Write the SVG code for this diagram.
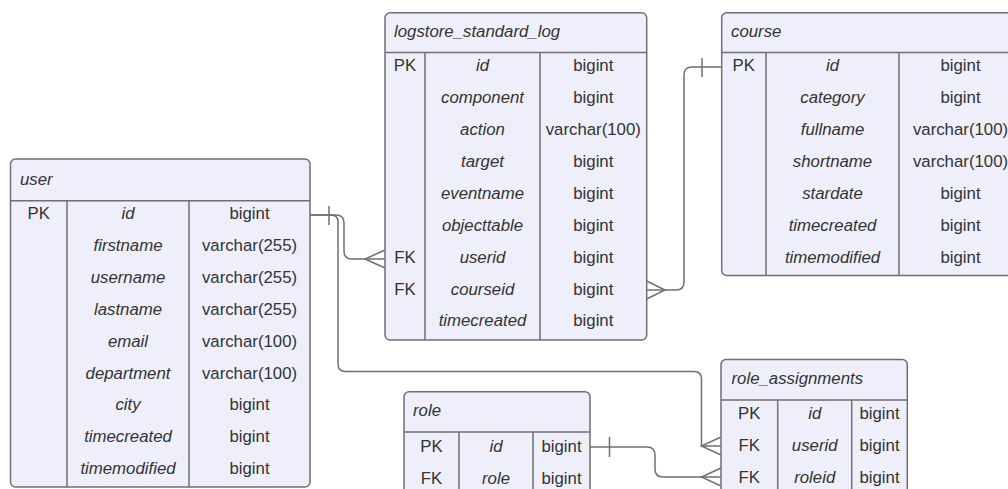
<svg xmlns="http://www.w3.org/2000/svg" width="1008" height="489" viewBox="0 0 1008 489">
<style>
.box{fill:#EFEFFB;stroke:#707070;stroke-width:1.5}
.div{stroke:#707070;stroke-width:1.5;fill:none}
text{font-family:"Liberation Sans",Arial,sans-serif;font-size:16.8px;fill:#333;dominant-baseline:central}
.h{font-style:italic}
.n{font-style:italic;text-anchor:middle}
.c{text-anchor:middle}
.con{stroke:#707070;stroke-width:1.5;fill:none}
</style>
<rect width="1008" height="489" fill="#fff"/>
<g id="connectors">
<!-- user.id -> logstore.userid -->
<path class="con" d="M310,215 H336 Q344,215 344,223 V251 Q344,259 352,259 H385"/>
<path class="con" d="M329,206 V225 M385,250 L365,259 L385,268"/>
<!-- user.id -> role_assignments.userid -->
<path class="con" d="M310,215 H331 Q338,215 338,222 V364 Q338,371.5 345.5,371.5 H694 Q701.5,371.5 701.5,379 V446 H721"/>
<path class="con" d="M721,437 L701.5,446 L721,455"/>
<!-- role.id -> role_assignments.roleid -->
<path class="con" d="M590,447 H647 Q655,447 655,455 V469 Q655,477 663,477 H721"/>
<path class="con" d="M609.5,437 V457 M721,468 L701.5,477 L721,486"/>
<!-- logstore.courseid -> course.id -->
<path class="con" d="M646.7,290 H676 Q684,290 684,282 V75 Q684,67 692,67 H721.7"/>
<path class="con" d="M702,58 V77 M646.7,281 L665,290 L646.7,299"/>
</g>
<g id="user">
<rect class="box" x="10.5" y="159" width="299.5" height="328" rx="5"/>
<path class="div" d="M10.5,200.7 H310 M67,200.7 V487 M189,200.7 V487"/>
<text class="h" x="20" y="179">user</text>
<text class="c" x="38.7" y="213.5">PK</text>
<text class="n" x="128" y="213.5">id</text><text class="c" x="249.5" y="213.5">bigint</text>
<text class="n" x="128" y="245.4">firstname</text><text class="c" x="249.5" y="245.4">varchar(255)</text>
<text class="n" x="128" y="277.3">username</text><text class="c" x="249.5" y="277.3">varchar(255)</text>
<text class="n" x="128" y="309.2">lastname</text><text class="c" x="249.5" y="309.2">varchar(255)</text>
<text class="n" x="128" y="341.1">email</text><text class="c" x="249.5" y="341.1">varchar(100)</text>
<text class="n" x="128" y="373">department</text><text class="c" x="249.5" y="373">varchar(100)</text>
<text class="n" x="128" y="404.9">city</text><text class="c" x="249.5" y="404.9">bigint</text>
<text class="n" x="128" y="436.8">timecreated</text><text class="c" x="249.5" y="436.8">bigint</text>
<text class="n" x="128" y="468.7">timemodified</text><text class="c" x="249.5" y="468.7">bigint</text>
</g>
<g id="logstore_standard_log">
<rect class="box" x="385" y="12.7" width="261.7" height="327.3" rx="5"/>
<path class="div" d="M385,52.5 H646.7 M425,52.5 V340 M540,52.5 V340"/>
<text class="h" x="394" y="31">logstore_standard_log</text>
<text class="c" x="405" y="65.7">PK</text>
<text class="n" x="482.5" y="65.7">id</text><text class="c" x="593.3" y="65.7">bigint</text>
<text class="n" x="482.5" y="97.6">component</text><text class="c" x="593.3" y="97.6">bigint</text>
<text class="n" x="482.5" y="129.5">action</text><text class="c" x="593.3" y="129.5">varchar(100)</text>
<text class="n" x="482.5" y="161.4">target</text><text class="c" x="593.3" y="161.4">bigint</text>
<text class="n" x="482.5" y="193.3">eventname</text><text class="c" x="593.3" y="193.3">bigint</text>
<text class="n" x="482.5" y="225.2">objecttable</text><text class="c" x="593.3" y="225.2">bigint</text>
<text class="c" x="405" y="257.1">FK</text>
<text class="n" x="482.5" y="257.1">userid</text><text class="c" x="593.3" y="257.1">bigint</text>
<text class="c" x="405" y="289">FK</text>
<text class="n" x="482.5" y="289">courseid</text><text class="c" x="593.3" y="289">bigint</text>
<text class="n" x="482.5" y="320.9">timecreated</text><text class="c" x="593.3" y="320.9">bigint</text>
</g>
<g id="course">
<rect class="box" x="721.7" y="12.7" width="300.3" height="262.8" rx="5"/>
<path class="div" d="M721.7,52.5 H1022 M766,52.5 V275.5 M899,52.5 V275.5"/>
<text class="h" x="731" y="31">course</text>
<text class="c" x="743.8" y="65.7">PK</text>
<text class="n" x="832.5" y="65.7">id</text><text class="c" x="960.5" y="65.7">bigint</text>
<text class="n" x="832.5" y="97.6">category</text><text class="c" x="960.5" y="97.6">bigint</text>
<text class="n" x="832.5" y="129.5">fullname</text><text class="c" x="960.5" y="129.5">varchar(100)</text>
<text class="n" x="832.5" y="161.4">shortname</text><text class="c" x="960.5" y="161.4">varchar(100)</text>
<text class="n" x="832.5" y="193.3">stardate</text><text class="c" x="960.5" y="193.3">bigint</text>
<text class="n" x="832.5" y="225.2">timecreated</text><text class="c" x="960.5" y="225.2">bigint</text>
<text class="n" x="832.5" y="257.1">timemodified</text><text class="c" x="960.5" y="257.1">bigint</text>
</g>
<g id="role">
<rect class="box" x="404" y="391.7" width="186" height="110" rx="5"/>
<path class="div" d="M404,432 H590 M459,432 V501.7 M533,432 V501.7"/>
<text class="h" x="413" y="410">role</text>
<text class="c" x="431.5" y="446.5">PK</text>
<text class="n" x="496" y="446.5">id</text><text class="c" x="561.5" y="446.5">bigint</text>
<text class="c" x="431.5" y="478.4">FK</text>
<text class="n" x="496" y="478.4">role</text><text class="c" x="561.5" y="478.4">bigint</text>
</g>
<g id="role_assignments">
<rect class="box" x="721" y="359.5" width="186.3" height="140" rx="5"/>
<path class="div" d="M721,400 H907.3 M777.7,400 V499.5 M851.7,400 V499.5"/>
<text class="h" x="731.5" y="378.5">role_assignments</text>
<text class="c" x="749.3" y="413.5">PK</text>
<text class="n" x="814.7" y="413.5">id</text><text class="c" x="879.5" y="413.5">bigint</text>
<text class="c" x="749.3" y="445.4">FK</text>
<text class="n" x="814.7" y="445.4">userid</text><text class="c" x="879.5" y="445.4">bigint</text>
<text class="c" x="749.3" y="477.3">FK</text>
<text class="n" x="814.7" y="477.3">roleid</text><text class="c" x="879.5" y="477.3">bigint</text>
</g>
</svg>
